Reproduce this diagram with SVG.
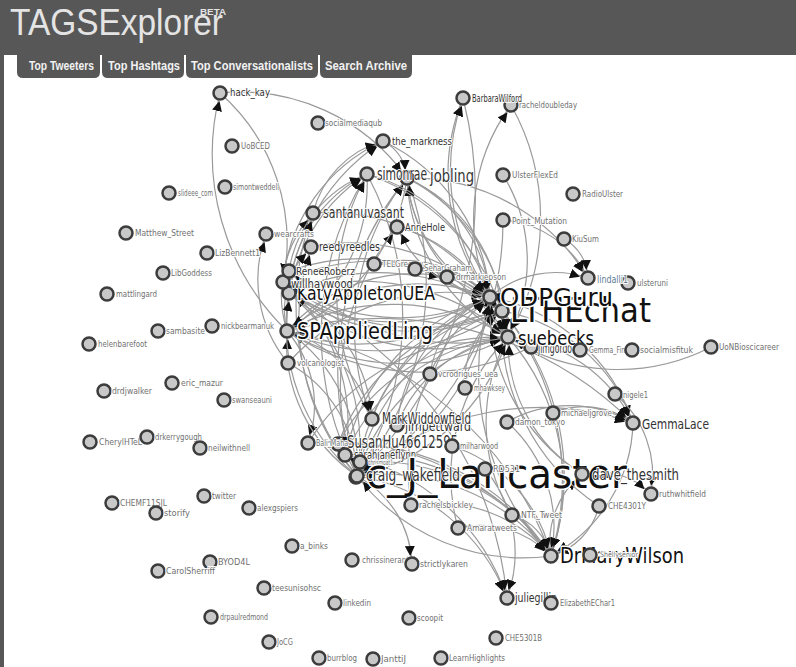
<svg xmlns="http://www.w3.org/2000/svg" width="796" height="667" viewBox="0 0 796 667">
<style>
.hdr{fill:#575757}
.title{font-family:"Liberation Sans",Arial,sans-serif;fill:#e4e4e4}
.tab text{font-family:"Liberation Sans",Arial,sans-serif;font-weight:bold;font-size:12px;fill:#f2f2f2}
.link{fill:none;stroke:#9a9a9a;stroke-width:1.2px;marker-end:url(#arrow)}
.node circle{fill:#c8c8c8;stroke:#3c3c3c;stroke-width:2.5px}
.lbl{font-family:"DejaVu Sans Condensed","DejaVu Sans",Verdana,sans-serif;fill:#707070;stroke:#fff;stroke-width:2px;stroke-linejoin:round;paint-order:stroke}
.dk{fill:#333}
.bk{fill:#111;stroke-width:3px}
</style>
<defs>
<marker id="arrow" viewBox="0 -5 10 10" refX="18" refY="-1.5" markerWidth="10" markerHeight="10" markerUnits="userSpaceOnUse" orient="auto"><path d="M0,-5L10,0L0,5Z" fill="#111"/></marker>
</defs>
<rect width="796" height="667" fill="#fff"/>
<!-- header bar -->
<g id="header">
<rect class="hdr" x="0" y="0" width="796" height="55"/>
<rect class="hdr" x="0" y="55" width="4" height="612"/>
<text class="title" x="10" y="35" font-size="36" textLength="213" lengthAdjust="spacingAndGlyphs">TAGSExplorer</text>
<text class="title" x="200" y="15" font-size="9" font-weight="bold" textLength="26" lengthAdjust="spacingAndGlyphs">BETA</text>
<g class="tab"><path class="hdr" d="M17,54H100V72Q100,78 94,78H23Q17,78 17,72Z"/><text x="29" y="70" textLength="65" lengthAdjust="spacingAndGlyphs">Top Tweeters</text></g>
<g class="tab"><path class="hdr" d="M102,54H184V72Q184,78 178,78H108Q102,78 102,72Z"/><text x="108" y="70" textLength="72" lengthAdjust="spacingAndGlyphs">Top Hashtags</text></g>
<g class="tab"><path class="hdr" d="M186,54H318V72Q318,78 312,78H192Q186,78 186,72Z"/><text x="191" y="70" textLength="122" lengthAdjust="spacingAndGlyphs">Top Conversationalists</text></g>
<g class="tab"><path class="hdr" d="M320,54H412V72Q412,78 406,78H326Q320,78 320,72Z"/><text x="325" y="70" textLength="82" lengthAdjust="spacingAndGlyphs">Search Archive</text></g>
</g>
<!-- connectors -->
<g id="links">
<path class="link" d="M287,331A206,206 0 0,1 490,297"/>
<path class="link" d="M490,297A206,206 0 0,1 287,331"/>
<path class="link" d="M289,293A214,214 0 0,1 502,311"/>
<path class="link" d="M502,311A214,214 0 0,1 289,293"/>
<path class="link" d="M287,331A221,221 0 0,1 508,337"/>
<path class="link" d="M508,337A221,221 0 0,1 287,331"/>
<path class="link" d="M289,293A223,223 0 0,1 508,337"/>
<path class="link" d="M283,282A208,208 0 0,1 490,297"/>
<path class="link" d="M289,271A217,217 0 0,1 502,311"/>
<path class="link" d="M508,337A223,223 0 0,1 289,293"/>
<path class="link" d="M490,297A208,208 0 0,1 283,282"/>
<path class="link" d="M502,311A216,216 0 0,1 287,331"/>
<path class="link" d="M288,363A212,212 0 0,1 490,297"/>
<path class="link" d="M531,347A245,245 0 0,1 287,331"/>
<path class="link" d="M374,264A153,153 0 0,1 508,337"/>
<path class="link" d="M287,331A169,169 0 0,1 447,277"/>
<path class="link" d="M357,476A302,302 0 0,1 367,174"/>
<path class="link" d="M367,174A302,302 0 0,1 357,476"/>
<path class="link" d="M357,476A302,302 0 0,1 407,178"/>
<path class="link" d="M407,178A302,302 0 0,1 357,476"/>
<path class="link" d="M357,476A223,223 0 0,1 490,297"/>
<path class="link" d="M490,297A223,223 0 0,1 357,476"/>
<path class="link" d="M357,476A205,205 0 0,1 508,337"/>
<path class="link" d="M508,337A205,205 0 0,1 357,476"/>
<path class="link" d="M357,476A220,220 0 0,1 502,311"/>
<path class="link" d="M345,455A214,214 0 0,1 490,297"/>
<path class="link" d="M338,444A211,211 0 0,1 502,311"/>
<path class="link" d="M372,419A245,245 0 0,1 367,174"/>
<path class="link" d="M372,419A243,243 0 0,1 407,178"/>
<path class="link" d="M397,425A142,142 0 0,1 508,337"/>
<path class="link" d="M287,331A114,114 0 0,1 308,443"/>
<path class="link" d="M289,293A151,151 0 0,1 372,419"/>
<path class="link" d="M357,476A210,210 0 0,1 551,556"/>
<path class="link" d="M551,556A210,210 0 0,1 357,476"/>
<path class="link" d="M345,455A229,229 0 0,1 551,556"/>
<path class="link" d="M508,337A223,223 0 0,1 551,556"/>
<path class="link" d="M490,297A266,266 0 0,1 551,556"/>
<path class="link" d="M502,311A250,250 0 0,1 551,556"/>
<path class="link" d="M287,331A347,347 0 0,1 551,556"/>
<path class="link" d="M411,505A149,149 0 0,1 551,556"/>
<path class="link" d="M458,528A97,97 0 0,1 551,556"/>
<path class="link" d="M512,515A57,57 0 0,1 551,556"/>
<path class="link" d="M599,506A69,69 0 0,1 551,556"/>
<path class="link" d="M357,476A193,193 0 0,1 507,598"/>
<path class="link" d="M345,455A216,216 0 0,1 507,598"/>
<path class="link" d="M508,337A152,152 0 0,1 633,423"/>
<path class="link" d="M490,297A190,190 0 0,1 633,423"/>
<path class="link" d="M502,311A172,172 0 0,1 633,423"/>
<path class="link" d="M357,476A281,281 0 0,1 633,423"/>
<path class="link" d="M287,331A358,358 0 0,1 633,423"/>
<path class="link" d="M615,394A106,106 0 0,1 651,494"/>
<path class="link" d="M582,474A72,72 0 0,1 651,494"/>
<path class="link" d="M711,347A203,203 0 0,1 508,337"/>
<path class="link" d="M503,220A103,103 0 0,1 588,278"/>
<path class="link" d="M564,239A46,46 0 0,1 588,278"/>
<path class="link" d="M407,178A207,207 0 0,1 588,278"/>
<path class="link" d="M490,297A201,201 0 0,1 463,98"/>
<path class="link" d="M502,311A217,217 0 0,1 463,98"/>
<path class="link" d="M490,297A193,193 0 0,1 511,105"/>
<path class="link" d="M313,213A100,100 0 0,1 383,141"/>
<path class="link" d="M287,331A213,213 0 0,1 383,141"/>
<path class="link" d="M287,331A176,176 0 0,1 367,174"/>
<path class="link" d="M289,293A142,142 0 0,1 367,174"/>
<path class="link" d="M490,297A145,145 0 0,1 407,178"/>
<path class="link" d="M508,337A188,188 0 0,1 407,178"/>
<path class="link" d="M502,311A163,163 0 0,1 407,178"/>
<path class="link" d="M287,331A121,121 0 0,1 313,213"/>
<path class="link" d="M357,476A267,267 0 0,1 313,213"/>
<path class="link" d="M357,476A252,252 0 0,1 397,227"/>
<path class="link" d="M490,297A116,116 0 0,1 397,227"/>
<path class="link" d="M287,331A87,87 0 0,1 311,247"/>
<path class="link" d="M357,476A234,234 0 0,1 311,247"/>
<path class="link" d="M288,363A131,131 0 0,1 266,234"/>
<path class="link" d="M287,331A247,247 0 0,1 220,93"/>
<path class="link" d="M220,93A205,205 0 0,1 407,178"/>
<path class="link" d="M220,93A199,199 0 0,1 283,282"/>
<path class="link" d="M289,271A124,124 0 0,1 367,174"/>
<path class="link" d="M283,282A173,173 0 0,1 383,141"/>
<path class="link" d="M465,388A85,85 0 0,1 502,311"/>
<path class="link" d="M430,374A98,98 0 0,1 490,297"/>
<path class="link" d="M582,474A199,199 0 0,1 490,297"/>
<path class="link" d="M507,422A141,141 0 0,1 551,556"/>
<path class="link" d="M485,469A131,131 0 0,1 507,598"/>
<path class="link" d="M287,331A161,161 0 0,1 357,476"/>
<path class="link" d="M357,476A161,161 0 0,1 287,331"/>
<path class="link" d="M289,293A195,195 0 0,1 357,476"/>
<path class="link" d="M357,476A195,195 0 0,1 289,293"/>
<path class="link" d="M283,282A184,184 0 0,1 345,455"/>
<path class="link" d="M288,363A132,132 0 0,1 357,476"/>
<path class="link" d="M308,443A226,226 0 0,1 508,337"/>
<path class="link" d="M338,444A201,201 0 0,1 508,337"/>
<path class="link" d="M372,419A169,169 0 0,1 502,311"/>
<path class="link" d="M397,425A158,158 0 0,1 490,297"/>
<path class="link" d="M345,455A201,201 0 0,1 508,337"/>
<path class="link" d="M287,331A122,122 0 0,1 372,419"/>
<path class="link" d="M508,337A44,44 0 0,1 490,297"/>
<path class="link" d="M490,297A201,201 0 0,1 289,293"/>
<path class="link" d="M502,311A221,221 0 0,1 283,282"/>
<path class="link" d="M508,337A229,229 0 0,1 289,271"/>
<path class="link" d="M407,178A194,194 0 0,1 287,331"/>
<path class="link" d="M367,174A176,176 0 0,1 287,331"/>
<path class="link" d="M397,227A156,156 0 0,1 508,337"/>
<path class="link" d="M313,213A196,196 0 0,1 490,297"/>
<path class="link" d="M311,247A201,201 0 0,1 502,311"/>
<path class="link" d="M383,141A189,189 0 0,1 490,297"/>
<path class="link" d="M463,98A393,393 0 0,1 357,476"/>
<path class="link" d="M511,105A232,232 0 0,1 508,337"/>
<path class="link" d="M503,175A162,162 0 0,1 508,337"/>
<path class="link" d="M503,220A295,295 0 0,1 357,476"/>
<path class="link" d="M551,556A88,88 0 0,1 582,474"/>
<path class="link" d="M551,556A266,266 0 0,1 490,297"/>
<path class="link" d="M357,476A104,104 0 0,1 412,564"/>
<path class="link" d="M553,413A81,81 0 0,1 633,423"/>
<path class="link" d="M507,422A126,126 0 0,1 633,423"/>
<path class="link" d="M289,293A375,375 0 0,1 507,598"/>
<path class="link" d="M360,462A213,213 0 0,1 551,556"/>
<path class="link" d="M338,444A241,241 0 0,1 551,556"/>
<path class="link" d="M308,443A268,268 0 0,1 551,556"/>
<path class="link" d="M452,446A148,148 0 0,1 551,556"/>
<path class="link" d="M367,174A174,174 0 0,1 490,297"/>
<path class="link" d="M367,174A216,216 0 0,1 508,337"/>
<path class="link" d="M407,178A188,188 0 0,1 508,337"/>
<path class="link" d="M407,178A163,163 0 0,1 502,311"/>
<path class="link" d="M383,141A44,44 0 0,1 407,178"/>
<path class="link" d="M490,297A100,100 0 0,1 588,278"/>
<path class="link" d="M582,474A156,156 0 0,1 508,337"/>
<path class="link" d="M599,506A218,218 0 0,1 502,311"/>
<path class="link" d="M512,515A178,178 0 0,1 508,337"/>
<path class="link" d="M458,528A197,197 0 0,1 508,337"/>
<path class="link" d="M411,505A222,222 0 0,1 490,297"/>
<path class="link" d="M415,269A97,97 0 0,1 502,311"/>
<path class="link" d="M374,264A121,121 0 0,1 490,297"/>
<path class="link" d="M407,178A145,145 0 0,1 490,297"/>
<path class="link" d="M633,423A156,156 0 0,1 551,556"/>
</g>
<!-- nodes -->
<g id="nodes">
<g id="n-hack_kay" class="node"><circle cx="220" cy="93" r="6.5"/><text class="lbl dk" x="230" y="96" font-size="10" textLength="40" lengthAdjust="spacingAndGlyphs">hack_kay</text></g>
<g id="n-UoBCED" class="node"><circle cx="232" cy="146" r="6.5"/><text class="lbl" x="241" y="149" font-size="9" textLength="29" lengthAdjust="spacingAndGlyphs">UoBCED</text></g>
<g id="n-socialmediaqub" class="node"><circle cx="318" cy="123" r="6.5"/><text class="lbl" x="325" y="126" font-size="9" textLength="57" lengthAdjust="spacingAndGlyphs">socialmediaqub</text></g>
<g id="n-the_markness" class="node"><circle cx="383" cy="141" r="6.5"/><text class="lbl dk" x="392" y="145" font-size="11" textLength="60" lengthAdjust="spacingAndGlyphs">the_markness</text></g>
<g id="n-racheldoubleday" class="node"><circle cx="511" cy="105" r="6.5"/><text class="lbl" x="519" y="108" font-size="8.5" textLength="58" lengthAdjust="spacingAndGlyphs">racheldoubleday</text></g>
<g id="n-BarbaraWilford" class="node"><circle cx="463" cy="98" r="6.5"/><text class="lbl dk" x="472" y="102" font-size="10" textLength="50" lengthAdjust="spacingAndGlyphs">BarbaraWilford</text></g>
<g id="n-jobling" class="node"><circle cx="407" cy="178" r="6.5"/><text class="lbl dk" x="430" y="182" font-size="17" textLength="44" lengthAdjust="spacingAndGlyphs">jobling</text></g>
<g id="n-simonrae" class="node"><circle cx="367" cy="174" r="6.5"/><text class="lbl dk" x="377" y="180" font-size="17" textLength="50" lengthAdjust="spacingAndGlyphs">simonrae</text></g>
<g id="n-slideee_com" class="node"><circle cx="169" cy="193" r="6.5"/><text class="lbl" x="178" y="196" font-size="9" textLength="35" lengthAdjust="spacingAndGlyphs">slideee_com</text></g>
<g id="n-simontweddell" class="node"><circle cx="225" cy="187" r="6.5"/><text class="lbl" x="233" y="190" font-size="9" textLength="46" lengthAdjust="spacingAndGlyphs">simontweddell</text></g>
<g id="n-UlsterFlexEd" class="node"><circle cx="503" cy="175" r="6.5"/><text class="lbl" x="512" y="178" font-size="9" textLength="46" lengthAdjust="spacingAndGlyphs">UlsterFlexEd</text></g>
<g id="n-RadioUlster" class="node"><circle cx="573" cy="194" r="6.5"/><text class="lbl" x="582" y="197" font-size="9" textLength="41" lengthAdjust="spacingAndGlyphs">RadioUlster</text></g>
<g id="n-Point_Mutation" class="node"><circle cx="503" cy="220" r="6.5"/><text class="lbl" x="512" y="224" font-size="9" textLength="55" lengthAdjust="spacingAndGlyphs">Point_Mutation</text></g>
<g id="n-KiuSum" class="node"><circle cx="564" cy="239" r="6.5"/><text class="lbl" x="572" y="242" font-size="9" textLength="27" lengthAdjust="spacingAndGlyphs">KiuSum</text></g>
<g id="n-santanuvasant" class="node"><circle cx="313" cy="213" r="6.5"/><text class="lbl dk" x="323" y="218" font-size="16" textLength="81" lengthAdjust="spacingAndGlyphs">santanuvasant</text></g>
<g id="n-AnneHole" class="node"><circle cx="397" cy="227" r="6.5"/><text class="lbl dk" x="405" y="231" font-size="11" textLength="40" lengthAdjust="spacingAndGlyphs">AnneHole</text></g>
<g id="n-Matthew_Street" class="node"><circle cx="126" cy="233" r="6.5"/><text class="lbl" x="135" y="236" font-size="9" textLength="59" lengthAdjust="spacingAndGlyphs">Matthew_Street</text></g>
<g id="n-wearcrafts" class="node"><circle cx="266" cy="234" r="6.5"/><text class="lbl" x="274" y="237" font-size="9" textLength="40" lengthAdjust="spacingAndGlyphs">wearcrafts</text></g>
<g id="n-LizBennett1" class="node"><circle cx="207" cy="253" r="6.5"/><text class="lbl" x="215" y="256" font-size="9" textLength="45" lengthAdjust="spacingAndGlyphs">LizBennett1</text></g>
<g id="n-reedyreedles" class="node"><circle cx="311" cy="247" r="6.5"/><text class="lbl dk" x="319" y="251" font-size="12" textLength="61" lengthAdjust="spacingAndGlyphs">reedyreedles</text></g>
<g id="n-LibGoddess" class="node"><circle cx="163" cy="273" r="6.5"/><text class="lbl" x="171" y="276" font-size="9" textLength="41" lengthAdjust="spacingAndGlyphs">LibGoddess</text></g>
<g id="n-TELGreenw" class="node"><circle cx="374" cy="264" r="6.5"/><text class="lbl" x="382" y="267" font-size="9" textLength="41" lengthAdjust="spacingAndGlyphs">TELGreenw</text></g>
<g id="n-SeharGraham" class="node"><circle cx="415" cy="269" r="6.5"/><text class="lbl" x="424" y="271" font-size="8.5" textLength="48" lengthAdjust="spacingAndGlyphs">SeharGraham</text></g>
<g id="n-drmarkjepson" class="node"><circle cx="447" cy="277" r="6.5"/><text class="lbl" x="456" y="280" font-size="8.5" textLength="50" lengthAdjust="spacingAndGlyphs">drmarkjepson</text></g>
<g id="n-ulsteruni" class="node"><circle cx="628" cy="283" r="6.5"/><text class="lbl" x="637" y="286" font-size="8.5" textLength="31" lengthAdjust="spacingAndGlyphs">ulsteruni</text></g>
<g id="n-lindalli1" class="node"><circle cx="588" cy="278" r="6.5"/><text class="lbl" x="597" y="283" font-size="11" textLength="31" lengthAdjust="spacingAndGlyphs" style="fill:#5f7d96">lindalli1</text></g>
<g id="n-mattlingard" class="node"><circle cx="107" cy="294" r="6.5"/><text class="lbl" x="116" y="297" font-size="9" textLength="41" lengthAdjust="spacingAndGlyphs">mattlingard</text></g>
<g id="n-KatyAppletonUEA" class="node"><circle cx="289" cy="293" r="6.5"/><text class="lbl bk" x="297" y="300" font-size="20" textLength="138" lengthAdjust="spacingAndGlyphs">KatyAppletonUEA</text></g>
<g id="n-willhaywood" class="node"><circle cx="283" cy="282" r="6.5"/><text class="lbl dk" x="291" y="288" font-size="13" textLength="62" lengthAdjust="spacingAndGlyphs">willhaywood</text></g>
<g id="n-ReneeRoberz" class="node"><circle cx="289" cy="271" r="6.5"/><text class="lbl dk" x="296" y="275" font-size="11" textLength="59" lengthAdjust="spacingAndGlyphs">ReneeRoberz</text></g>
<g id="n-LTHEchat" class="node"><circle cx="502" cy="311" r="6.5"/><text class="lbl bk" x="510" y="322" font-size="34" textLength="141" lengthAdjust="spacingAndGlyphs">LTHEchat</text></g>
<g id="n-ODPGuru" class="node"><circle cx="490" cy="297" r="6.5"/><text class="lbl bk" x="500" y="306" font-size="25" textLength="113" lengthAdjust="spacingAndGlyphs">ODPGuru</text></g>
<g id="n-jimgordo" class="node"><circle cx="531" cy="347" r="6.5"/><text class="lbl dk" x="538" y="353" font-size="14" textLength="34" lengthAdjust="spacingAndGlyphs">jimgordo</text></g>
<g id="n-suebecks" class="node"><circle cx="508" cy="337" r="6.5"/><text class="lbl bk" x="518" y="345" font-size="20" textLength="76" lengthAdjust="spacingAndGlyphs">suebecks</text></g>
<g id="n-Gemma_Finn" class="node"><circle cx="580" cy="350" r="6.5"/><text class="lbl" x="589" y="353" font-size="9" textLength="40" lengthAdjust="spacingAndGlyphs">Gemma_Finn</text></g>
<g id="n-socialmisfituk" class="node"><circle cx="632" cy="350" r="6.5"/><text class="lbl" x="640" y="353" font-size="9" textLength="53" lengthAdjust="spacingAndGlyphs">socialmisfituk</text></g>
<g id="n-UoNBioscicareer" class="node"><circle cx="711" cy="347" r="6.5"/><text class="lbl" x="719" y="350" font-size="9" textLength="60" lengthAdjust="spacingAndGlyphs">UoNBioscicareer</text></g>
<g id="n-nickbearmanuk" class="node"><circle cx="212" cy="326" r="6.5"/><text class="lbl" x="221" y="329" font-size="9" textLength="53" lengthAdjust="spacingAndGlyphs">nickbearmanuk</text></g>
<g id="n-sambasite" class="node"><circle cx="158" cy="331" r="6.5"/><text class="lbl" x="166" y="334" font-size="9" textLength="39" lengthAdjust="spacingAndGlyphs">sambasite</text></g>
<g id="n-helenbarefoot" class="node"><circle cx="89" cy="344" r="6.5"/><text class="lbl" x="98" y="347" font-size="9" textLength="49" lengthAdjust="spacingAndGlyphs">helenbarefoot</text></g>
<g id="n-SPAppliedLing" class="node"><circle cx="287" cy="331" r="6.5"/><text class="lbl bk" x="297" y="339" font-size="23" textLength="136" lengthAdjust="spacingAndGlyphs">SPAppliedLing</text></g>
<g id="n-volcanologist" class="node"><circle cx="288" cy="363" r="6.5"/><text class="lbl" x="297" y="366" font-size="9" textLength="47" lengthAdjust="spacingAndGlyphs">volcanologist</text></g>
<g id="n-vcrodrigues_uea" class="node"><circle cx="430" cy="374" r="6.5"/><text class="lbl" x="438" y="377" font-size="9" textLength="60" lengthAdjust="spacingAndGlyphs">vcrodrigues_uea</text></g>
<g id="n-mhawksey" class="node"><circle cx="465" cy="388" r="6.5"/><text class="lbl" x="474" y="391" font-size="9" textLength="31" lengthAdjust="spacingAndGlyphs">mhawksey</text></g>
<g id="n-drdjwalker" class="node"><circle cx="104" cy="391" r="6.5"/><text class="lbl" x="112" y="394" font-size="9" textLength="40" lengthAdjust="spacingAndGlyphs">drdjwalker</text></g>
<g id="n-eric_mazur" class="node"><circle cx="172" cy="383" r="6.5"/><text class="lbl" x="181" y="386" font-size="9.5" textLength="42" lengthAdjust="spacingAndGlyphs">eric_mazur</text></g>
<g id="n-swanseauni" class="node"><circle cx="224" cy="400" r="6.5"/><text class="lbl" x="232" y="403" font-size="9" textLength="40" lengthAdjust="spacingAndGlyphs">swanseauni</text></g>
<g id="n-nigele1" class="node"><circle cx="615" cy="394" r="6.5"/><text class="lbl" x="623" y="398" font-size="9" textLength="25" lengthAdjust="spacingAndGlyphs">nigele1</text></g>
<g id="n-jimpettward" class="node"><circle cx="397" cy="425" r="6.5"/><text class="lbl dk" x="405" y="431" font-size="14" textLength="66" lengthAdjust="spacingAndGlyphs">jimpettward</text></g>
<g id="n-MarkWiddowfield" class="node"><circle cx="372" cy="419" r="6.5"/><text class="lbl dk" x="382" y="424" font-size="15" textLength="89" lengthAdjust="spacingAndGlyphs">MarkWiddowfield</text></g>
<g id="n-damon_tokyo" class="node"><circle cx="507" cy="422" r="6.5"/><text class="lbl" x="515" y="425" font-size="9" textLength="50" lengthAdjust="spacingAndGlyphs">damon_tokyo</text></g>
<g id="n-michaeljgrove" class="node"><circle cx="553" cy="413" r="6.5"/><text class="lbl" x="561" y="416" font-size="9" textLength="51" lengthAdjust="spacingAndGlyphs">michaeljgrove</text></g>
<g id="n-GemmaLace" class="node"><circle cx="633" cy="423" r="6.5"/><text class="lbl dk" x="642" y="429" font-size="14" textLength="67" lengthAdjust="spacingAndGlyphs">GemmaLace</text></g>
<g id="n-CherylHTeL" class="node"><circle cx="90" cy="442" r="6.5"/><text class="lbl" x="99" y="445" font-size="9" textLength="43" lengthAdjust="spacingAndGlyphs">CherylHTeL</text></g>
<g id="n-drkerrygough" class="node"><circle cx="147" cy="437" r="6.5"/><text class="lbl" x="155" y="440" font-size="9" textLength="47" lengthAdjust="spacingAndGlyphs">drkerrygough</text></g>
<g id="n-neilwithnell" class="node"><circle cx="200" cy="448" r="6.5"/><text class="lbl" x="208" y="451" font-size="9" textLength="42" lengthAdjust="spacingAndGlyphs">neilwithnell</text></g>
<g id="n-SusanHu46612595" class="node"><circle cx="338" cy="444" r="6.5"/><text class="lbl dk" x="347" y="448" font-size="17" textLength="111" lengthAdjust="spacingAndGlyphs">SusanHu46612595</text></g>
<g id="n-Bali_Maha" class="node"><circle cx="308" cy="443" r="6.5"/><text class="lbl" x="316" y="446" font-size="9" textLength="32" lengthAdjust="spacingAndGlyphs">Bali_Maha</text></g>
<g id="n-milharwood" class="node"><circle cx="452" cy="446" r="6.5"/><text class="lbl" x="460" y="449" font-size="9" textLength="38" lengthAdjust="spacingAndGlyphs">milharwood</text></g>
<g id="n-sarahjaneflynn" class="node"><circle cx="345" cy="455" r="6.5"/><text class="lbl dk" x="354" y="459" font-size="13" textLength="62" lengthAdjust="spacingAndGlyphs">sarahjaneflynn</text></g>
<g id="n-chrismoat1" class="node"><circle cx="360" cy="462" r="6.5"/><text class="lbl" x="368" y="465" font-size="7.5" textLength="25" lengthAdjust="spacingAndGlyphs">chrismoat1</text></g>
<g id="n-c_J_Lancaster" class="node"><circle cx="356" cy="477" r="6.5"/><text class="lbl bk" x="366" y="488" font-size="40" textLength="261" lengthAdjust="spacingAndGlyphs">c_J_Lancaster</text></g>
<g id="n-craig_wakefield" class="node"><circle cx="357" cy="476" r="6.5"/><text class="lbl dk" x="366" y="481" font-size="17" textLength="94" lengthAdjust="spacingAndGlyphs">craig_wakefield</text></g>
<g id="n-RD531" class="node"><circle cx="485" cy="469" r="6.5"/><text class="lbl" x="493" y="472" font-size="8.5" textLength="27" lengthAdjust="spacingAndGlyphs">RD531</text></g>
<g id="n-dave_thesmith" class="node"><circle cx="582" cy="474" r="6.5"/><text class="lbl dk" x="592" y="480" font-size="15" textLength="87" lengthAdjust="spacingAndGlyphs">dave_thesmith</text></g>
<g id="n-ruthwhitfield" class="node"><circle cx="651" cy="494" r="6.5"/><text class="lbl" x="659" y="497" font-size="9" textLength="47" lengthAdjust="spacingAndGlyphs">ruthwhitfield</text></g>
<g id="n-CHE4301Y" class="node"><circle cx="599" cy="506" r="6.5"/><text class="lbl" x="608" y="509" font-size="9" textLength="38" lengthAdjust="spacingAndGlyphs">CHE4301Y</text></g>
<g id="n-rachelsbickley" class="node"><circle cx="411" cy="505" r="6.5"/><text class="lbl" x="419" y="508" font-size="9" textLength="54" lengthAdjust="spacingAndGlyphs">rachelsbickley</text></g>
<g id="n-NTF_Tweet" class="node"><circle cx="512" cy="515" r="6.5"/><text class="lbl" x="521" y="518" font-size="9" textLength="41" lengthAdjust="spacingAndGlyphs">NTF_Tweet</text></g>
<g id="n-Amaratweets" class="node"><circle cx="458" cy="528" r="6.5"/><text class="lbl" x="467" y="531" font-size="9" textLength="50" lengthAdjust="spacingAndGlyphs">Amaratweets</text></g>
<g id="n-CHEMF11SJL" class="node"><circle cx="112" cy="503" r="6.5"/><text class="lbl" x="120" y="506" font-size="9" textLength="47" lengthAdjust="spacingAndGlyphs">CHEMF11SJL</text></g>
<g id="n-twitter" class="node"><circle cx="204" cy="496" r="6.5"/><text class="lbl" x="212" y="499" font-size="9" textLength="24" lengthAdjust="spacingAndGlyphs">twitter</text></g>
<g id="n-storify" class="node"><circle cx="156" cy="513" r="6.5"/><text class="lbl" x="164" y="516" font-size="9" textLength="26" lengthAdjust="spacingAndGlyphs">storify</text></g>
<g id="n-alexgspiers" class="node"><circle cx="249" cy="508" r="6.5"/><text class="lbl" x="257" y="511" font-size="9" textLength="41" lengthAdjust="spacingAndGlyphs">alexgspiers</text></g>
<g id="n-a_binks" class="node"><circle cx="292" cy="546" r="6.5"/><text class="lbl" x="300" y="549" font-size="9" textLength="28" lengthAdjust="spacingAndGlyphs">a_binks</text></g>
<g id="n-DrMaryWilson" class="node"><circle cx="551" cy="556" r="6.5"/><text class="lbl bk" x="560" y="563" font-size="22" textLength="124" lengthAdjust="spacingAndGlyphs">DrMaryWilson</text></g>
<g id="n-Shellysenior" class="node"><circle cx="590" cy="555" r="6.5"/><text class="lbl" x="600" y="557" font-size="7.5" textLength="38" lengthAdjust="spacingAndGlyphs">Shellysenior</text></g>
<g id="n-chrissinerantzi" class="node"><circle cx="352" cy="560" r="6.5"/><text class="lbl" x="362" y="563" font-size="9" textLength="53" lengthAdjust="spacingAndGlyphs">chrissinerantzi</text></g>
<g id="n-strictlykaren" class="node"><circle cx="412" cy="564" r="6.5"/><text class="lbl" x="420" y="567" font-size="9" textLength="48" lengthAdjust="spacingAndGlyphs">strictlykaren</text></g>
<g id="n-BYOD4L" class="node"><circle cx="210" cy="562" r="6.5"/><text class="lbl" x="218" y="565" font-size="9" textLength="32" lengthAdjust="spacingAndGlyphs">BYOD4L</text></g>
<g id="n-CarolSherriff" class="node"><circle cx="158" cy="571" r="6.5"/><text class="lbl" x="166" y="574" font-size="9" textLength="49" lengthAdjust="spacingAndGlyphs">CarolSherriff</text></g>
<g id="n-teesunisohsc" class="node"><circle cx="264" cy="588" r="6.5"/><text class="lbl" x="272" y="591" font-size="9" textLength="49" lengthAdjust="spacingAndGlyphs">teesunisohsc</text></g>
<g id="n-juliegillin" class="node"><circle cx="507" cy="598" r="6.5"/><text class="lbl dk" x="515" y="602" font-size="12" textLength="42" lengthAdjust="spacingAndGlyphs">juliegillin</text></g>
<g id="n-ElizabethEChar1" class="node"><circle cx="551" cy="603" r="6.5"/><text class="lbl" x="560" y="606" font-size="8.5" textLength="55" lengthAdjust="spacingAndGlyphs">ElizabethEChar1</text></g>
<g id="n-linkedin" class="node"><circle cx="335" cy="603" r="6.5"/><text class="lbl" x="343" y="606" font-size="9" textLength="28" lengthAdjust="spacingAndGlyphs">linkedin</text></g>
<g id="n-drpaulredmond" class="node"><circle cx="211" cy="617" r="6.5"/><text class="lbl" x="220" y="620" font-size="9" textLength="48" lengthAdjust="spacingAndGlyphs">drpaulredmond</text></g>
<g id="n-scoopit" class="node"><circle cx="409" cy="618" r="6.5"/><text class="lbl" x="417" y="621" font-size="9" textLength="26" lengthAdjust="spacingAndGlyphs">scoopit</text></g>
<g id="n-CHE5301B" class="node"><circle cx="496" cy="638" r="6.5"/><text class="lbl" x="505" y="641" font-size="9" textLength="37" lengthAdjust="spacingAndGlyphs">CHE5301B</text></g>
<g id="n-JoCG" class="node"><circle cx="269" cy="642" r="6.5"/><text class="lbl" x="277" y="645" font-size="9" textLength="16" lengthAdjust="spacingAndGlyphs">JoCG</text></g>
<g id="n-burrblog" class="node"><circle cx="319" cy="658" r="6.5"/><text class="lbl" x="327" y="661" font-size="9" textLength="30" lengthAdjust="spacingAndGlyphs">burrblog</text></g>
<g id="n-JanttiJ" class="node"><circle cx="373" cy="659" r="6.5"/><text class="lbl" x="381" y="662" font-size="9" textLength="25" lengthAdjust="spacingAndGlyphs">JanttiJ</text></g>
<g id="n-LearnHighlights" class="node"><circle cx="441" cy="658" r="6.5"/><text class="lbl" x="449" y="661" font-size="9" textLength="56" lengthAdjust="spacingAndGlyphs">LearnHighlights</text></g>
</g>
</svg>
